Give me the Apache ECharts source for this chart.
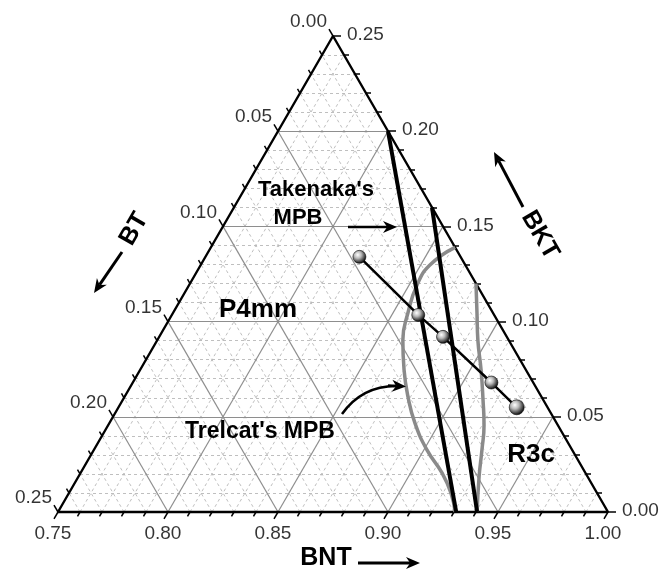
<!DOCTYPE html>
<html><head><meta charset="utf-8">
<script src="https://cdn.jsdelivr.net/npm/echarts@6/dist/echarts.min.js"></script>
<style>html,body{margin:0;padding:0;background:#fff}#c{width:667px;height:570px}</style>
</head><body><div id="c"></div>
<script>
// ================= DATA =================
const bntTicks = [0.75, 0.80, 0.85, 0.90, 0.95, 1.00];
const bntTickLabels = ['0.75', '0.80', '0.85', '0.90', '0.95', '1.00'];
const bktTicks = [0.00, 0.05, 0.10, 0.15, 0.20, 0.25];
const bktTickLabels = ['0.00', '0.05', '0.10', '0.15', '0.20', '0.25'];
const btTicks = [0.00, 0.05, 0.10, 0.15, 0.20, 0.25];
const btTickLabels = ['0.00', '0.05', '0.10', '0.15', '0.20', '0.25'];
const minorStep = 0.01;

// Takenaka's MPB (two straight boundaries): BNT, BKT fractions
const takenaka1BNT = [0.800, 0.931];
const takenaka1BKT = [0.200, 0.000];
const takenaka2BNT = [0.840, 0.9405];
const takenaka2BKT = [0.160, 0.000];

// Trelcat's MPB (two curved boundaries)
const trelcatLeftBNT = [0.861, 0.8542, 0.8536, 0.8568, 0.8616, 0.8700, 0.8789, 0.8889, 0.9014, 0.9143, 0.9236, 0.9305];
const trelcatLeftBKT = [0.139, 0.1297, 0.1192, 0.1045, 0.0903, 0.0746, 0.0604, 0.0467, 0.0326, 0.0205, 0.0100, 0.000];
const trelcatRightBNT = [0.880, 0.8882, 0.8957, 0.9050, 0.9138, 0.9208, 0.9264, 0.9322, 0.9405];
const trelcatRightBKT = [0.120, 0.1045, 0.0903, 0.0746, 0.0588, 0.0457, 0.0326, 0.0184, 0.000];

// Studied compositions
const sampleBNT = [0.820, 0.862, 0.879, 0.913, 0.931];
const sampleBKT = [0.134, 0.1035, 0.092, 0.068, 0.055];

// ================= LAYOUT =================
const S = Math.sqrt(3) / 2;
const G = {left: 58, top: 36, width: 550, height: 476};
const PX = 0.25 / G.width; // data units per pixel
function T(bnt, bkt) { return [bnt - 0.75 + bkt / 2, bkt * S]; }

// grid lines
const minorLines = [], majorLines = [], ticks = [];
const n = Math.round(0.25 / minorStep);
for (let i = 0; i <= n; i++) {
  const v = +(i * minorStep).toFixed(4);
  const major = (i % 5 === 0);
  const L = (major ? 8 : 5) * PX;
  const bnt = 0.75 + v;
  const b0 = T(bnt, 0), b1 = T(bnt, 1 - bnt);
  const k0 = T(0.75, v), k1 = T(1 - v, v);
  const t0 = T(1 - v, 0), t1 = T(0.75, 0.25 - v);
  if (i > 0 && i < n) {
    const arr = major ? majorLines : minorLines;
    arr.push({coords: [b0, b1]}, {coords: [k0, k1]}, {coords: [t0, t1]});
  }
  ticks.push({coords: [b0, [b0[0] - L / 2, b0[1] - L * S]]});
  ticks.push({coords: [k1, [k1[0] + L, k1[1]]]});
  ticks.push({coords: [t1, [t1[0] - L / 2, t1[1] + L * S]]});
}
const frame = [T(0.75, 0), T(1, 0), T(0.75, 0.25), T(0.75, 0)];

function toXY(a, b) { return a.map((v, i) => T(v, b[i])); }

const sphere = {
  type: 'radial', x: 0.38, y: 0.35, r: 0.75,
  colorStops: [{offset: 0, color: '#ffffff'}, {offset: 0.35, color: '#b8b8b8'}, {offset: 0.8, color: '#202020'}, {offset: 1, color: '#000'}]
};

const FONT = 'Liberation Sans, Arial, sans-serif';
const tickLabelStyle = {fontSize: 19, color: '#000', fontFamily: FONT};

function labelSeries(points, names, offset, align) {
  return {
    type: 'scatter', symbolSize: 0.1, silent: true, z: 10,
    itemStyle: {color: 'rgba(0,0,0,0)'},
    data: points.map((p, i) => ({value: p, name: names[i]})),
    label: Object.assign({show: true, formatter: '{b}', position: [0, 0], offset: offset,
      align: align, verticalAlign: 'middle'}, tickLabelStyle)
  };
}

function arrow(x1, y1, x2, y2, w) {
  const a = Math.atan2(y2 - y1, x2 - x1), c = Math.cos(a), s = Math.sin(a);
  const hl = 14, hw = 6;
  const bx = x2 - hl * c, by = y2 - hl * s;
  const nx = x2 - hl * 0.7 * c, ny = y2 - hl * 0.7 * s;
  return [
    {type: 'line', shape: {x1: x1, y1: y1, x2: nx, y2: ny}, style: {stroke: '#000', lineWidth: w}, z: 20},
    {type: 'polygon', shape: {points: [[x2, y2], [bx - hw * s, by + hw * c], [nx, ny], [bx + hw * s, by - hw * c]]}, style: {fill: '#000'}, z: 20}
  ];
}
function text(str, x, y, size, rot, align) {
  return {type: 'text', x: x, y: y, rotation: rot || 0, z: 20,
    style: {text: str, fontSize: size, fontWeight: 'bold', fontFamily: FONT, fill: '#000',
      textAlign: align || 'center', textVerticalAlign: 'middle'}};
}
const graphics = [].concat(
  [text('BNT', 326, 558, 25)], arrow(358, 563, 420, 563, 3),
  [text('BKT', 540, 235, 25, -Math.PI / 3)], arrow(523, 207, 494, 152, 3),
  [text('BT', 134, 229, 25, Math.PI / 3)], arrow(122, 252, 94, 293, 3),
  [text("Takenaka's", 316, 190, 22), text('MPB', 298, 218, 22)], arrow(348, 227, 397, 227, 2.5),
  [text("Trelcat's MPB", 260, 432, 23), text('P4mm', 258, 310, 26), text('R3c', 531, 455, 26)],
  [{type: 'bezierCurve', shape: {x1: 342, y1: 414, cpx1: 362, cpy1: 386, x2: 396, y2: 386}, style: {stroke: '#000', lineWidth: 2.5, fill: null}, z: 20}],
  arrow(388, 385.5, 406, 386.5, 2.5)
);

const chart = echarts.init(document.getElementById('c'), null, {renderer: 'canvas'});
chart.setOption({
  animation: false,
  backgroundColor: '#fff',
  grid: G,
  xAxis: {type: 'value', min: 0, max: 0.25, show: false},
  yAxis: {type: 'value', min: 0, max: 0.25 * S, show: false},
  graphic: graphics,
  series: [
    {type: 'lines', coordinateSystem: 'cartesian2d', silent: true, z: 1, clip: false,
      lineStyle: {color: '#b8b8b8', width: 0.9, type: [3, 3], opacity: 1}, data: minorLines},
    {type: 'lines', coordinateSystem: 'cartesian2d', silent: true, z: 2, clip: false,
      lineStyle: {color: '#8e8e8e', width: 1.2, opacity: 1}, data: majorLines},
    {type: 'lines', coordinateSystem: 'cartesian2d', silent: true, z: 3, clip: false,
      lineStyle: {color: '#000', width: 1.5, opacity: 1}, data: ticks},
    {type: 'line', data: frame, symbol: 'none', silent: true, z: 4, clip: false,
      lineStyle: {color: '#000', width: 2.4}},
    {type: 'line', name: 'Trelcat L', data: toXY(trelcatLeftBNT, trelcatLeftBKT), smooth: 0.5, symbol: 'none', z: 5, clip: false,
      lineStyle: {color: '#8a8a8a', width: 3.5}},
    {type: 'line', name: 'Trelcat R', data: toXY(trelcatRightBNT, trelcatRightBKT), smooth: 0.5, symbol: 'none', z: 5, clip: false,
      lineStyle: {color: '#8a8a8a', width: 3.5}},
    {type: 'line', name: 'Takenaka 1', data: toXY(takenaka1BNT, takenaka1BKT), symbol: 'none', z: 6, clip: false,
      lineStyle: {color: '#000', width: 4}},
    {type: 'line', name: 'Takenaka 2', data: toXY(takenaka2BNT, takenaka2BKT), symbol: 'none', z: 6, clip: false,
      lineStyle: {color: '#000', width: 4}},
    {type: 'line', name: 'Samples', data: toXY(sampleBNT, sampleBKT), symbol: 'circle',
      symbolSize: (v, p) => p.dataIndex === 4 ? 15 : 13, z: 7, clip: false,
      lineStyle: {color: '#000', width: 2.5}, itemStyle: {color: sphere, borderColor: '#000', borderWidth: 0.6}},
    labelSeries(bntTicks.map(v => T(v, 0)), bntTickLabels, [-5, 22], 'center'),
    labelSeries(bktTicks.map(v => T(1 - v, v)), bktTickLabels, [14, -1], 'left'),
    labelSeries(btTicks.map(v => T(0.75, 0.25 - v)), btTickLabels, [-6, -14], 'right')
  ]
});
</script></body></html>
